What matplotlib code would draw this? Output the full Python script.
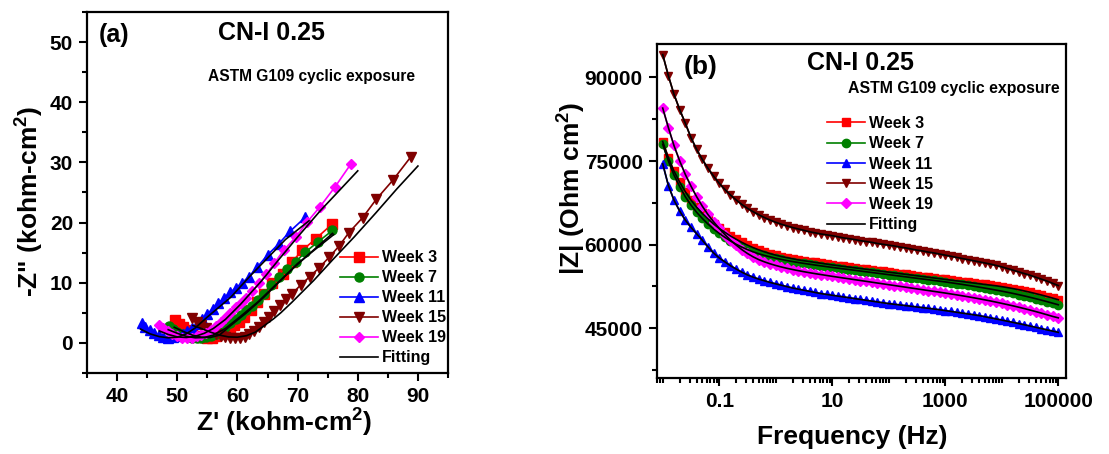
import matplotlib
matplotlib.use('Agg')
import matplotlib.pyplot as plt
from matplotlib.ticker import MultipleLocator, FixedLocator, FixedFormatter, LogLocator, NullFormatter

plt.rcParams['font.family'] = 'Liberation Sans'
plt.rcParams['font.weight'] = 'bold'
plt.rcParams['axes.labelweight'] = 'bold'
plt.rcParams['mathtext.fontset'] = 'custom'
plt.rcParams['mathtext.rm'] = 'Liberation Sans:bold'
plt.rcParams['mathtext.bf'] = 'Liberation Sans:bold'
plt.rcParams['mathtext.default'] = 'rm'

W, H = 1109, 454

LABELS = ['Week 3', 'Week 7', 'Week 11', 'Week 15', 'Week 19']
COLORS = ['#ff0000', '#008000', '#0000ff', '#800000', '#ff00ff']
MARKERS = ['s', 'o', '^', 'v', 'D']

# ---- panel (a): Nyquist, Z' and -Z'' in kohm-cm2 ----
za_w3_re = [49.7, 50.3, 51.0, 51.7, 52.5, 53.3, 54.1, 54.9, 55.7, 56.5, 57.3, 58.0, 58.7,
            59.4, 60.2, 61.1, 62.2, 63.3, 64.4, 65.8, 67.5, 69.1, 70.8, 73.0, 75.8]
za_w3_im = [3.8, 3.2, 2.6, 2.1, 1.6, 1.2, 0.95, 0.85, 0.9, 1.1, 1.4, 1.8, 2.3,
            2.9, 3.5, 4.3, 5.4, 6.8, 8.2, 9.9, 11.5, 13.5, 15.4, 17.3, 19.8]
za_w7_re = [48.6, 49.3, 50.0, 50.8, 51.6, 52.4, 53.2, 54.0, 54.8, 55.6, 56.4, 57.2, 58.0, 58.8,
            59.7, 60.6, 61.5, 62.4, 63.4, 64.4, 65.6, 66.9, 68.3, 69.7, 71.3, 73.4, 75.8]
za_w7_im = [2.8, 2.3, 1.85, 1.45, 1.1, 0.9, 0.8, 0.8, 0.95, 1.2, 1.55, 2.0, 2.6, 3.3,
            4.0, 4.7, 5.4, 6.2, 7.2, 8.2, 9.6, 11.0, 12.3, 13.5, 15.1, 16.8, 18.7]
za_w11_re = [44.1, 44.7, 45.4, 46.1, 46.9, 47.7, 48.5, 49.3, 50.1, 50.9, 51.7, 52.5, 53.3, 54.1,
             55.0, 55.9, 56.8, 57.8, 58.8, 59.8, 60.8, 61.9, 63.3, 65.0, 66.9, 68.8, 71.3]
za_w11_im = [3.3, 2.7, 2.1, 1.6, 1.25, 1.0, 0.9, 0.95, 1.1, 1.4, 1.9, 2.5, 3.2, 4.0,
             4.8, 5.7, 6.6, 7.5, 8.4, 9.2, 10.0, 11.0, 12.6, 14.6, 16.5, 18.6, 20.9]
za_w15_re = [52.5, 53.2, 54.0, 54.8, 55.6, 56.4, 57.2, 58.0, 58.8, 59.6, 60.4, 61.2, 62.0, 62.8,
             63.6, 64.4, 65.2, 66.1, 67.1, 68.0, 69.1, 70.5, 72.0, 73.5, 75.3, 76.9, 78.5,
             80.8, 83.1, 85.8, 88.8]
za_w15_im = [4.1, 3.5, 2.9, 2.4, 1.9, 1.5, 1.2, 0.95, 0.8, 0.75, 0.8, 1.0, 1.4, 1.9,
             2.6, 3.4, 4.3, 5.3, 6.3, 7.3, 8.2, 9.6, 11.0, 12.4, 14.3, 16.1, 18.3,
             20.8, 23.9, 27.0, 30.9]
za_w19_re = [47.0, 47.7, 48.4, 49.2, 50.0, 50.8, 51.6, 52.4, 53.2, 54.0, 54.8, 55.6, 56.4, 57.2,
             58.0, 58.8, 59.7, 60.6, 61.5, 62.5, 63.6, 64.8, 66.1, 67.7, 69.7, 71.6, 73.7,
             76.2, 78.9]
za_w19_im = [3.0, 2.4, 1.9, 1.45, 1.1, 0.9, 0.85, 0.9, 1.1, 1.35, 1.7, 2.2, 2.8, 3.5,
             4.2, 5.0, 5.9, 6.7, 7.5, 8.6, 9.9, 11.4, 13.2, 15.4, 17.6, 20.1, 22.6,
             25.9, 29.8]

# fitted curves, panel (a)
fa_w3_re = [49.5, 51.0, 52.5, 54.0, 55.5, 57.0, 58.9, 61.5, 64.4, 67.2, 70.0, 73.0, 76.0]
fa_w3_im = [2.6, 1.9, 1.3, 0.95, 0.9, 1.3, 2.9, 5.0, 7.6, 10.4, 13.2, 15.6, 18.0]
fa_w7_re = [48.5, 50.0, 51.5, 53.0, 54.5, 56.0, 58.0, 60.5, 63.5, 66.5, 69.5, 72.5, 75.8]
fa_w7_im = [2.2, 1.6, 1.1, 0.85, 0.9, 1.3, 2.4, 4.4, 6.9, 9.8, 12.6, 15.3, 18.2]
fa_w11_re = [43.9, 45.5, 47.0, 48.5, 50.0, 51.5, 53.0, 55.0, 58.9, 62.0, 65.0, 68.0, 71.9]
fa_w11_im = [2.3, 1.5, 1.05, 0.85, 0.95, 1.5, 2.5, 4.3, 7.6, 11.0, 14.1, 17.2, 20.3]
fa_w15_re = [52.6, 54.0, 55.5, 57.0, 58.5, 60.0, 61.5, 63.0, 64.5, 66.0, 67.2, 69.0, 72.7,
             76.0, 79.4, 83.0, 86.5, 90.0]
fa_w15_im = [2.9, 2.4, 1.8, 1.3, 1.0, 0.95, 1.2, 1.8, 2.9, 4.0, 5.0, 6.7, 10.4,
             14.0, 17.6, 21.6, 25.6, 29.4]
fa_w19_re = [47.0, 48.5, 50.0, 51.5, 53.0, 54.5, 56.0, 58.0, 60.5, 64.0, 67.0, 70.0, 73.8, 77.0, 80.0]
fa_w19_im = [2.0, 1.4, 1.0, 0.9, 1.1, 1.6, 2.4, 3.9, 6.4, 10.3, 14.0, 17.6, 22.0, 25.4, 28.6]

# ---- panel (b): Bode |Z| (Ohm cm2) vs frequency (Hz) ----
freq = [0.01, 0.0126, 0.0158, 0.02, 0.0251, 0.0316, 0.0398, 0.0501, 0.0631, 0.0794,
        0.1, 0.126, 0.158, 0.2, 0.251, 0.316, 0.398, 0.501, 0.631, 0.794,
        1, 1.26, 1.58, 2, 2.51, 3.16, 3.98, 5.01, 6.31, 7.94,
        10, 12.6, 15.8, 20, 25.1, 31.6, 39.8, 50.1, 63.1, 79.4,
        100, 126, 158, 200, 251, 316, 398, 501, 631, 794,
        1000, 1259, 1585, 1995, 2512, 3162, 3981, 5012, 6310, 7943,
        10000, 12589, 15849, 19953, 25119, 31623, 39811, 50119, 63096, 79433,
        100000]
zb_w3 = [78500, 75600, 73200, 71200, 69500, 68000, 66700, 65600, 64600, 63700,
         62900, 62200, 61550, 60950, 60400, 59900, 59450, 59050, 58700, 58380,
         58100, 57850, 57650, 57450, 57250, 57100, 56950, 56800, 56650, 56500,
         56350, 56220, 56090, 55960, 55830, 55700, 55570, 55440, 55310, 55180,
         55050, 54920, 54790, 54660, 54530, 54400, 54270, 54140, 54010, 53880,
         53750, 53620, 53490, 53360, 53230, 53100, 52970, 52840, 52720, 52600,
         52450, 52280, 52100, 51900, 51680, 51450, 51200, 50950, 50680, 50400,
         50100]
zb_w7 = [78000, 75000, 72500, 70400, 68600, 67100, 65800, 64700, 63700, 62800,
         62000, 61300, 60650, 60050, 59550, 59100, 58700, 58350, 58050, 57800,
         57550, 57330, 57130, 56950, 56780, 56620, 56470, 56320, 56180, 56040,
         55900, 55770, 55640, 55510, 55380, 55250, 55120, 54990, 54860, 54730,
         54600, 54470, 54340, 54210, 54080, 53950, 53820, 53690, 53560, 53430,
         53300, 53150, 53000, 52850, 52690, 52530, 52360, 52190, 52010, 51830,
         51640, 51440, 51230, 51010, 50780, 50540, 50290, 50030, 49760, 49480,
         49200]
zb_w11 = [74500, 70600, 68000, 66000, 64400, 63100, 61950, 60800, 59600, 58500,
          57600, 56900, 56200, 55600, 55050, 54550, 54150, 53800, 53500, 53200,
          52950, 52700, 52450, 52200, 52000, 51800, 51600, 51400, 51200, 51050,
          50900, 50750, 50600, 50450, 50300, 50150, 50000, 49850, 49700, 49550,
          49400, 49280, 49160, 49040, 48920, 48800, 48680, 48560, 48430, 48300,
          48150, 48000, 47850, 47700, 47550, 47400, 47250, 47050, 46850, 46650,
          46450, 46240, 46030, 45820, 45600, 45380, 45150, 44920, 44690, 44470,
          44250]
zb_w15 = [94100, 90300, 87000, 84200, 81800, 79200, 77100, 75300, 73700, 72300,
          71000, 69900, 68900, 68000, 67200, 66500, 65900, 65350, 64850, 64400,
          64000, 63650, 63350, 63050, 62800, 62550, 62300, 62100, 61900, 61750,
          61600, 61400, 61200, 61050, 60900, 60700, 60550, 60400, 60200, 60050,
          59900, 59750, 59550, 59400, 59200, 59000, 58850, 58650, 58500, 58300,
          58100, 57900, 57700, 57500, 57300, 57100, 56900, 56700, 56500, 56250,
          56000, 55700, 55400, 55100, 54800, 54500, 54150, 53800, 53450, 53050,
          52650]
zb_w19 = [84500, 81000, 77800, 75000, 72600, 70500, 68600, 66900, 65400, 64100,
          62900, 61800, 60800, 59900, 59100, 58400, 57800, 57300, 56900, 56550,
          56250, 55980, 55740, 55520, 55320, 55130, 54950, 54780, 54620, 54460,
          54300, 54150, 54000, 53850, 53700, 53550, 53400, 53250, 53100, 52950,
          52800, 52650, 52500, 52350, 52200, 52050, 51900, 51750, 51600, 51450,
          51300, 51140, 50980, 50810, 50640, 50460, 50270, 50080, 49880, 49670,
          49450, 49230, 49000, 48760, 48510, 48250, 47980, 47700, 47410, 47110,
          46850]


def style_axes(ax):
    for s in ax.spines.values():
        s.set_linewidth(1.6)
    ax.tick_params(which='both', direction='out', top=False, right=False, width=1.5)
    ax.tick_params(which='major', length=6, labelsize=15, pad=4)
    ax.tick_params(which='minor', length=3.5)


fig = plt.figure(figsize=(W / 100, H / 100), dpi=100)

# ---------- (a) ----------
ax1 = fig.add_axes([87 / W, 1 - 373 / H, 361 / W, 361 / H])
a_data = [(za_w3_re, za_w3_im), (za_w7_re, za_w7_im), (za_w11_re, za_w11_im),
          (za_w15_re, za_w15_im), (za_w19_re, za_w19_im)]
a_fit = [(fa_w3_re, fa_w3_im), (fa_w7_re, fa_w7_im), (fa_w11_re, fa_w11_im),
         (fa_w15_re, fa_w15_im), (fa_w19_re, fa_w19_im)]
for (xr, yi), lab, c, m in zip(a_data, LABELS, COLORS, MARKERS):
    ms = 5.5 if m == 'D' else 6.5
    ax1.plot(xr, yi, color=c, marker=m, ms=ms, lw=1.2, mec=c, mfc=c, label=lab)
for i, (xr, yi) in enumerate(a_fit):
    ax1.plot(xr, yi, color='black', lw=1.2, label='Fitting' if i == 0 else None, zorder=5)
ax1.set_xlim(35, 95)
ax1.set_ylim(-5, 55)
ax1.xaxis.set_major_locator(FixedLocator([40, 50, 60, 70, 80, 90]))
ax1.xaxis.set_minor_locator(MultipleLocator(5))
ax1.yaxis.set_major_locator(FixedLocator([0, 10, 20, 30, 40, 50]))
ax1.yaxis.set_minor_locator(MultipleLocator(5))
style_axes(ax1)
ax1.set_xlabel("Z' (kohm-cm$^{2}$)", fontsize=19)
ax1.set_ylabel('-Z" (kohm-cm$^{2}$)', fontsize=19)
ax1.xaxis.set_label_coords((284 - 87) / 361, (373 - 423) / 361)
ax1.xaxis.label.set_verticalalignment('center')
ax1.yaxis.set_label_coords((30 - 87) / 361, (373 - 201) / 361)
ax1.yaxis.label.set_verticalalignment('center')
ax1.legend(loc='upper left', bbox_to_anchor=(340 / W, 1 - 250.5 / H), bbox_transform=fig.transFigure,
           frameon=False, fontsize=11.5, handlelength=2.4, handletextpad=0.25,
           labelspacing=0.31, borderpad=0, borderaxespad=0, numpoints=1)
fig.text(114 / W, 1 - 35 / H, '(a)', fontsize=18, ha='center', va='center')
fig.text(271 / W, 1 - 33 / H, 'CN-I 0.25', fontsize=18, ha='center', va='center')
fig.text(311 / W, 1 - 77 / H, 'ASTM G109 cyclic exposure', fontsize=11.2, ha='center', va='center')

# ---------- (b) ----------
ax2 = fig.add_axes([656.7 / W, 1 - 378.3 / H, 409.3 / W, 334.3 / H])
b_data = [zb_w3, zb_w7, zb_w11, zb_w15, zb_w19]
for z, lab, c, m in zip(b_data, LABELS, COLORS, MARKERS):
    ms = 5.0 if m == 'D' else 6
    ax2.plot(freq, z, color=c, marker=m, ms=ms, lw=1.2, mec=c, mfc=c, label=lab)
for i, z in enumerate(b_data):
    ax2.plot(freq, z, color='black', lw=1.2, label='Fitting' if i == 0 else None, zorder=5)
ax2.set_xscale('log')
ax2.set_xlim(0.00783, 1.37e5)
ax2.set_ylim(36000, 96000)
ax2.xaxis.set_major_locator(FixedLocator([0.1, 10, 1000, 100000]))
ax2.xaxis.set_major_formatter(FixedFormatter(['0.1', '10', '1000', '100000']))
ax2.xaxis.set_minor_locator(LogLocator(base=10, subs=[1, 2, 3, 4, 5, 6, 7, 8, 9], numticks=20))
ax2.xaxis.set_minor_formatter(NullFormatter())
ax2.yaxis.set_major_locator(FixedLocator([45000, 60000, 75000, 90000]))
ax2.yaxis.set_minor_locator(FixedLocator([37500, 52500, 67500, 82500]))
style_axes(ax2)
ax2.set_xlabel('Frequency (Hz)', fontsize=19)
ax2.set_ylabel('|Z| (Ohm cm$^{2}$)', fontsize=19)
ax2.xaxis.set_label_coords((852 - 656.7) / 409.3, (378.3 - 437) / 334.3)
ax2.xaxis.label.set_verticalalignment('center')
ax2.yaxis.set_label_coords((572 - 656.7) / 409.3, (378.3 - 188) / 334.3)
ax2.yaxis.label.set_verticalalignment('center')
ax2.legend(loc='upper left', bbox_to_anchor=(827 / W, 1 - 116 / H), bbox_transform=fig.transFigure,
           frameon=False, fontsize=11.5, handlelength=2.35, handletextpad=0.25,
           labelspacing=0.33, borderpad=0, borderaxespad=0, numpoints=1)
fig.text(701 / W, 1 - 67 / H, '(b)', fontsize=19, ha='center', va='center')
fig.text(860 / W, 1 - 63.5 / H, 'CN-I 0.25', fontsize=18, ha='center', va='center')
fig.text(954 / W, 1 - 88.5 / H, 'ASTM G109 cyclic exposure', fontsize=11.4, ha='center', va='center')

fig.savefig('out.png', dpi=100)
